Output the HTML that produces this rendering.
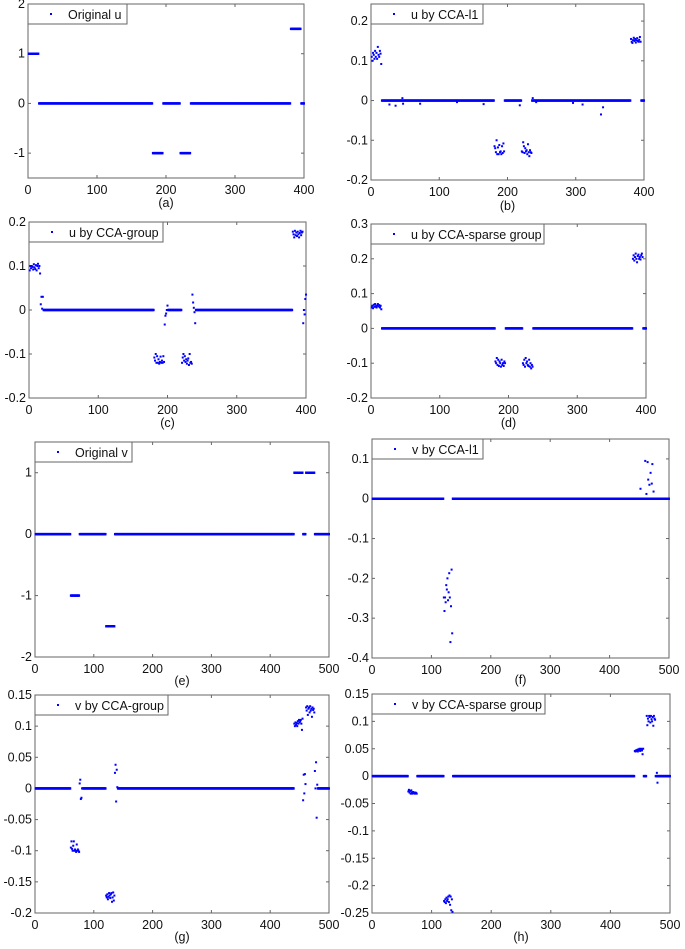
<!DOCTYPE html>
<html><head><meta charset="utf-8">
<style>
html,body{margin:0;padding:0;background:#fff;}
svg{display:block;font-family:"Liberation Sans",Arial,sans-serif;}
</style></head>
<body>
<svg id="fig" width="685" height="949" viewBox="0 0 685 949" xmlns="http://www.w3.org/2000/svg"></svg>
<script>
// ---- data (segments: [startIndex, endIndex, value]; points: [index, value]) ----
const aSegs=[[1,15,1],[16,180,0],[181,195,-1],[196,220,0],[221,235,-1],[236,380,0],[381,395,1.5],[396,400,0]];
const aPts=[];
const bSegs=[[16,180,0],[196,220,0],[236,380,0],[396,400,0]];
const bPts=[[1,0.11],[2,0.1],[3,0.12],[4,0.115],[5,0.105],[6,0.125],[7,0.11],[8,0.12],[9,0.105],[10,0.135],[11,0.115],[12,0.11],[13,0.125],[14,0.118],[15,0.092],
[181,-0.115],[182,-0.12],[183,-0.13],[184,-0.1],[185,-0.135],[186,-0.118],[187,-0.135],[188,-0.112],[189,-0.13],[190,-0.128],[191,-0.135],[192,-0.115],[193,-0.132],[194,-0.108],[195,-0.128],
[221,-0.128],[222,-0.13],[223,-0.105],[224,-0.115],[225,-0.132],[226,-0.12],[227,-0.128],[228,-0.125],[229,-0.135],[230,-0.11],[231,-0.13],[232,-0.14],[233,-0.125],[234,-0.13],[235,-0.132],
[381,0.155],[382,0.148],[383,0.145],[384,0.152],[385,0.158],[386,0.15],[387,0.155],[388,0.146],[389,0.152],[390,0.157],[391,0.15],[392,0.148],[393,0.153],[394,0.16],[395,0.148],
[27,-0.01],[36,-0.013],[46,0.006],[47,-0.008],[72,-0.008],[126,-0.004],[165,-0.009],[218,-0.012],[237,0.006],[242,-0.004],[296,-0.006],[310,-0.01],[337,-0.035],[340,-0.017]];
const cSegs=[[21,180,0],[201,220,0],[241,380,0]];
const cPts=[[1,0.09],[2,0.1],[3,0.095],[4,0.1],[5,0.098],[6,0.092],[7,0.104],[8,0.097],[9,0.093],[10,0.102],[11,0.09],[12,0.1],[13,0.105],[14,0.095],[15,0.1],
[16,0.083],[17,0.013],[18,0.03],[19,0.003],[20,0.03],
[181,-0.108],[182,-0.115],[183,-0.1],[184,-0.12],[185,-0.105],[186,-0.12],[187,-0.112],[188,-0.122],[189,-0.118],[190,-0.106],[191,-0.12],[192,-0.115],[193,-0.12],[194,-0.105],[195,-0.118],
[196,-0.033],[197,-0.013],[198,-0.008],[199,0.0],[200,0.01],
[221,-0.12],[222,-0.108],[223,-0.1],[224,-0.115],[225,-0.105],[226,-0.118],[227,-0.112],[228,-0.122],[229,-0.115],[230,-0.11],[231,-0.125],[232,-0.1],[233,-0.12],[234,-0.118],[235,-0.122],
[236,0.035],[237,0.017],[238,0.005],[239,-0.005],[240,-0.03],
[381,0.178],[382,0.172],[383,0.165],[384,0.18],[385,0.17],[386,0.176],[387,0.168],[388,0.178],[389,0.172],[390,0.165],[391,0.175],[392,0.18],[393,0.17],[394,0.176],[395,0.178],
[396,-0.03],[397,0],[398,-0.01],[399,0.025],[400,0.035]];
const dSegs=[[16,180,0],[196,220,0],[236,380,0],[396,400,0]];
const dPts=[[1,0.06],[2,0.065],[3,0.058],[4,0.068],[5,0.062],[6,0.07],[7,0.064],[8,0.06],[9,0.066],[10,0.07],[11,0.063],[12,0.067],[13,0.06],[14,0.065],[15,0.055],
[181,-0.095],[182,-0.1],[183,-0.085],[184,-0.105],[185,-0.09],[186,-0.108],[187,-0.095],[188,-0.1],[189,-0.11],[190,-0.09],[191,-0.105],[192,-0.1],[193,-0.108],[194,-0.095],[195,-0.1],
[221,-0.1],[222,-0.105],[223,-0.09],[224,-0.11],[225,-0.085],[226,-0.1],[227,-0.095],[228,-0.105],[229,-0.108],[230,-0.09],[231,-0.11],[232,-0.1],[233,-0.115],[234,-0.105],[235,-0.11],
[381,0.2],[382,0.21],[383,0.195],[384,0.205],[385,0.215],[386,0.2],[387,0.19],[388,0.208],[389,0.212],[390,0.2],[391,0.205],[392,0.198],[393,0.21],[394,0.215],[395,0.205]];
const eSegs=[[1,60,0],[61,75,-1],[76,120,0],[121,135,-1.5],[136,440,0],[441,455,1],[456,460,0],[461,475,1],[476,500,0]];
const ePts=[];
const fSegs=[[1,120,0],[136,500,0]];
const fPts=[[121,-0.248],[122,-0.282],[123,-0.248],[124,-0.26],[125,-0.217],[126,-0.228],[127,-0.2],[128,-0.255],[129,-0.235],[130,-0.187],[131,-0.248],[132,-0.36],[133,-0.27],[134,-0.178],[135,-0.338],
[452,0.025],[460,0.095],[462,0.012],[464,0.092],[465,0.048],[467,0.035],[469,0.065],[471,0.038],[472,0.087],[474,0.018]];
const gSegs=[[1,60,0],[81,120,0],[141,440,0],[481,500,0]];
const gPts=[[61,-0.095],[62,-0.085],[63,-0.097],[64,-0.1],[65,-0.092],[66,-0.085],[67,-0.1],[68,-0.098],[69,-0.1],[70,-0.102],[71,-0.09],[72,-0.1],[73,-0.098],[74,-0.1],[75,-0.102],
[76,0.008],[77,0.014],[78,-0.017],[79,-0.015],[80,0],
[121,-0.172],[122,-0.175],[123,-0.17],[124,-0.178],[125,-0.174],[126,-0.168],[127,-0.172],[128,-0.176],[129,-0.17],[130,-0.168],[131,-0.182],[132,-0.175],[133,-0.167],[134,-0.18],[135,-0.172],
[136,0.025],[137,0.038],[138,-0.021],[139,0.03],[140,0.002],
[441,0.104],[442,0.1],[443,0.106],[444,0.102],[445,0.105],[446,0.1],[447,0.108],[448,0.104],[449,0.11],[450,0.106],[451,0.108],[452,0.11],[453,0.104],[454,0.094],[455,0.112],
[456,-0.019],[457,0.022],[458,-0.008],[459,0.023],[460,0.007],
[461,0.13],[462,0.125],[463,0.132],[464,0.118],[465,0.128],[466,0.13],[467,0.122],[468,0.132],[469,0.125],[470,0.128],[471,0.115],[472,0.13],[473,0.126],[474,0.128],[475,0.122],
[476,0.028],[477,0.0],[478,0.042],[479,-0.047],[480,0.006]];
const hSegs=[[1,60,0],[76,120,0],[136,440,0],[456,460,0],[476,500,0]];
const hPts=[[61,-0.028],[62,-0.025],[63,-0.03],[64,-0.027],[65,-0.032],[66,-0.026],[67,-0.03],[68,-0.032],[69,-0.029],[70,-0.031],[71,-0.03],[72,-0.032],[73,-0.03],[74,-0.031],[75,-0.032],
[121,-0.228],[122,-0.23],[123,-0.225],[124,-0.232],[125,-0.222],[126,-0.228],[127,-0.225],[128,-0.22],[129,-0.23],[130,-0.218],[131,-0.235],[132,-0.22],[133,-0.245],[134,-0.225],[135,-0.248],
[441,0.046],[442,0.045],[443,0.047],[444,0.046],[445,0.048],[446,0.045],[447,0.049],[448,0.047],[449,0.05],[450,0.046],[451,0.048],[452,0.05],[453,0.047],[454,0.04],[455,0.05],
[461,0.11],[462,0.093],[463,0.105],[464,0.1],[465,0.11],[466,0.108],[467,0.098],[468,0.11],[469,0.104],[470,0.1],[471,0.108],[472,0.092],[473,0.11],[474,0.105],[475,0.103],
[478,0.006],[479,-0.012]];

const xTicks400=[0,100,200,300,400];
const xTicks500=[0,100,200,300,400,500];
const aYTicks=[-1,0,1,2], bYTicks=[-0.2,-0.1,0,0.1,0.2], cYTicks=[-0.2,-0.1,0,0.1,0.2], dYTicks=[-0.2,-0.1,0,0.1,0.2,0.3];
const eYTicks=[-2,-1,0,1], fYTicks=[-0.4,-0.3,-0.2,-0.1,0,0.1];
const gYTicks=[-0.2,-0.15,-0.1,-0.05,0,0.05,0.1,0.15], hYTicks=[-0.25,-0.2,-0.15,-0.1,-0.05,0,0.05,0.1,0.15];

// ---- layout ----
const panels=[
 {id:'a',x0:28,x1:304,y0:4,y1:178,xmax:400,ymin:-1.5,ymax:2,xt:xTicks400,yt:aYTicks,segs:aSegs,pts:aPts,leg:'Original u',lw:99,cap:203},
 {id:'b',x0:371,x1:644,y0:4,y1:180,xmax:400,ymin:-0.2,ymax:0.243,xt:xTicks400,yt:bYTicks,segs:bSegs,pts:bPts,leg:'u by CCA-l1',lw:112,cap:206},
 {id:'c',x0:29,x1:306,y0:222,y1:398,xmax:400,ymin:-0.2,ymax:0.2,xt:xTicks400,yt:cYTicks,segs:cSegs,pts:cPts,leg:'u by CCA-group',lw:134,cap:423},
 {id:'d',x0:371,x1:646,y0:224,y1:398,xmax:400,ymin:-0.2,ymax:0.3,xt:xTicks400,yt:dYTicks,segs:dSegs,pts:dPts,leg:'u by CCA-sparse group',lw:173,cap:423},
 {id:'e',x0:35,x1:329,y0:442,y1:657,xmax:500,ymin:-2,ymax:1.5,xt:xTicks500,yt:eYTicks,segs:eSegs,pts:ePts,leg:'Original v',lw:97,cap:681},
 {id:'f',x0:372,x1:669,y0:439,y1:658,xmax:500,ymin:-0.4,ymax:0.15,xt:xTicks500,yt:fYTicks,segs:fSegs,pts:fPts,leg:'v by CCA-l1',lw:111,cap:680},
 {id:'g',x0:35,x1:329,y0:695,y1:913,xmax:500,ymin:-0.2,ymax:0.15,xt:xTicks500,yt:gYTicks,segs:gSegs,pts:gPts,leg:'v by CCA-group',lw:133,cap:937},
 {id:'h',x0:372,x1:670,y0:694,y1:913,xmax:500,ymin:-0.25,ymax:0.15,xt:xTicks500,yt:hYTicks,segs:hSegs,pts:hPts,leg:'v by CCA-sparse group',lw:173,cap:937}
];
const NS='http://www.w3.org/2000/svg';
const svg=document.getElementById('fig');
function mk(tag,attrs,parent){const e=document.createElementNS(NS,tag);for(const k in attrs)e.setAttribute(k,attrs[k]);parent.appendChild(e);return e;}
function fmt(v){return String(Math.round(v*1000)/1000);}
panels.forEach(p=>{
  const g=mk('g',{},svg);
  
  
  const sx=v=>p.x0+(v/p.xmax)*(p.x1-p.x0);
  const sy=v=>p.y1-(v-p.ymin)/(p.ymax-p.ymin)*(p.y1-p.y0);
  const fr=mk('rect',{x:p.x0,y:p.y0,width:p.x1-p.x0,height:p.y1-p.y0,fill:'#fff',stroke:'#666','stroke-width':1},g);
  
  
  p.xt.forEach(t=>{
    const x=sx(t);
    mk('line',{x1:x,y1:p.y1,x2:x,y2:p.y1-3,stroke:'#666'},g);
    mk('line',{x1:x,y1:p.y0,x2:x,y2:p.y0+3,stroke:'#666'},g);
    const tx=mk('text',{x:x,y:p.y1+16,'font-size':12.5,'text-anchor':'middle',fill:'#111'},g);
    tx.textContent=fmt(t);
    
    
  });
  p.yt.forEach(t=>{
    const y=sy(t);
    mk('line',{x1:p.x0,y1:y,x2:p.x0+3,y2:y,stroke:'#666'},g);
    mk('line',{x1:p.x1,y1:y,x2:p.x1-3,y2:y,stroke:'#666'},g);
    const ty=mk('text',{x:p.x0-3,y:y+4,'font-size':12.5,'text-anchor':'end',fill:'#111'},g);
    ty.textContent=fmt(t);
    
    
  });
  const series=mk('g',{fill:'#0000ff'},g);
  
  
  p.segs.forEach(s=>{
    for(let i=s[0];i<=s[1];i++){
      mk('rect',{x:sx(i)-1,y:sy(s[2])-1.2,width:2,height:2.4},series);
    }
  });
  p.pts.forEach(pt=>{
    const r=mk('rect',{x:sx(pt[0])-1,y:sy(pt[1])-1,width:2,height:2},series);
    
    
  });
  const lg=mk('g',{},g);
  
  
  mk('rect',{x:p.x0,y:p.y0,width:p.lw,height:20,fill:'#fff',stroke:'#666'},lg);
  mk('rect',{x:p.x0+22,y:p.y0+9,width:2,height:2,fill:'#0000ff'},lg);
  const lt=mk('text',{x:p.x0+40,y:p.y0+15,'font-size':12.5,fill:'#111'},lg);
  lt.textContent=p.leg;
  
  
  const cp=mk('text',{x:(p.x0+p.x1)/2,y:p.cap+4,'font-size':12.5,'text-anchor':'middle',fill:'#111'},g);
  cp.textContent='('+p.id+')';
  
  
});
</script>
</body></html>
